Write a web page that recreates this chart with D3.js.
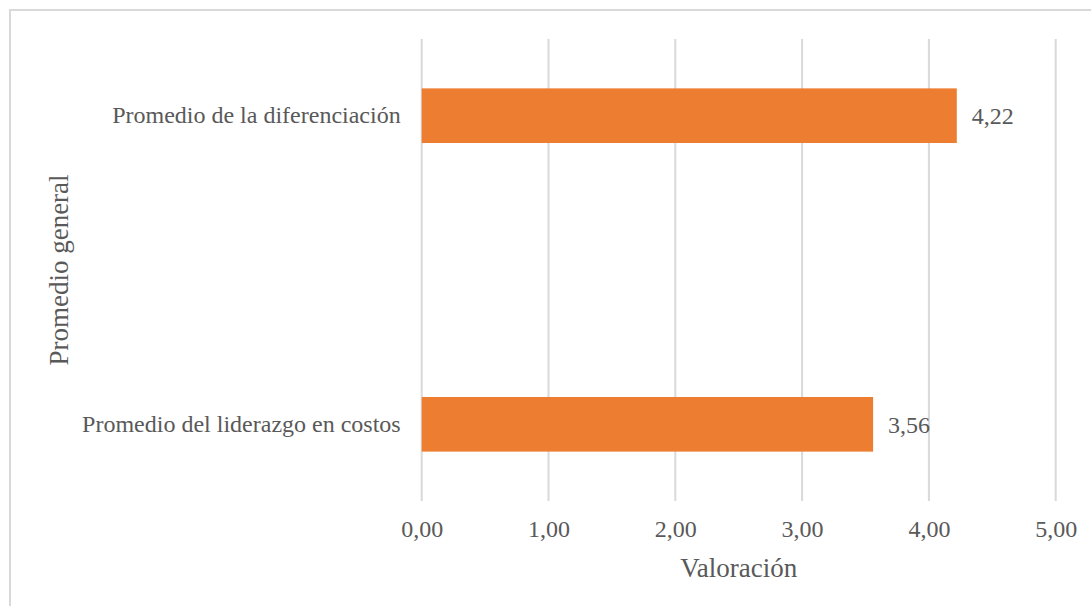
<!DOCTYPE html>
<html>
<head>
<meta charset="utf-8">
<script src="https://cdn.jsdelivr.net/npm/d3@7"></script>
<style>
  body { margin: 0; background: #fff; }
  svg text { font-family: "Liberation Serif", "Times New Roman", "DejaVu Serif", serif !important; fill: #595959; }
</style>
</head>
<body>
<div id="chart"></div>
<script>
// datos del gráfico
var categorias = ["Promedio de la diferenciación", "Promedio del liderazgo en costos"];
var valores = [4.22, 3.56];
var ticks = [0, 1, 2, 3, 4, 5];

var width = 1091, height = 606;
var plot = { left: 421.7, right: 1055.7, top: 39, bottom: 501 };
var fuente = "24px", fuenteTitulo = "27px";

var svg = d3.select("#chart").append("svg")
    .attr("width", width)
    .attr("height", height);

// borde del área del gráfico
svg.append("rect")
    .attr("x", 10).attr("y", 10)
    .attr("width", width + 20).attr("height", height + 20)
    .attr("fill", "none")
    .attr("stroke", "#d9d9d9")
    .attr("stroke-width", 2);

var x = d3.scaleLinear()
    .domain([0, 5])
    .range([plot.left, plot.right]);

var y = d3.scaleBand()
    .domain(categorias)
    .range([plot.top, plot.bottom])
    .paddingInner(0.823)
    .paddingOuter(0.16);

// líneas de cuadrícula
svg.append("g").selectAll("line")
    .data(ticks)
    .enter().append("line")
    .attr("x1", function (d) { return x(d); })
    .attr("x2", function (d) { return x(d); })
    .attr("y1", plot.top)
    .attr("y2", plot.bottom)
    .attr("stroke", "#d9d9d9")
    .attr("stroke-width", 2);

var fmt = function (d) { return d3.format(".2f")(d).replace(".", ","); };

// eje x
var xAxis = svg.append("g")
    .attr("transform", "translate(0," + plot.bottom + ")")
    .call(d3.axisBottom(x).tickValues(ticks).tickSize(0).tickPadding(19).tickFormat(fmt));
xAxis.select(".domain").remove();
xAxis.attr("font-family", null).attr("font-size", null);
xAxis.selectAll("text")
    .style("font-size", fuente)
    .attr("fill", "#595959");

// eje y
var yAxis = svg.append("g")
    .attr("transform", "translate(" + plot.left + ",0)")
    .call(d3.axisLeft(y).tickSize(0).tickPadding(21));
yAxis.select(".domain").remove();
yAxis.attr("font-family", null).attr("font-size", null);
yAxis.selectAll("text")
    .style("font-size", fuente)
    .attr("fill", "#595959");

// barras
svg.append("g").selectAll("rect")
    .data(valores)
    .enter().append("rect")
    .attr("x", x(0))
    .attr("y", function (d, i) { return y(categorias[i]); })
    .attr("width", function (d) { return x(d) - x(0); })
    .attr("height", y.bandwidth())
    .attr("fill", "#ed7d31");

// etiquetas de datos
svg.append("g").selectAll("text")
    .data(valores)
    .enter().append("text")
    .attr("x", function (d) { return x(d) + 15; })
    .attr("y", function (d, i) { return y(categorias[i]) + y.bandwidth() / 2; })
    .attr("dy", "0.35em")
    .style("font-size", fuente)
    .text(fmt);

// títulos de ejes
svg.append("text")
    .attr("x", (plot.left + plot.right) / 2)
    .attr("y", 577)
    .attr("text-anchor", "middle")
    .style("font-size", fuenteTitulo)
    .text("Valoración");

svg.append("text")
    .attr("transform", "translate(68," + (plot.top + plot.bottom) / 2 + ") rotate(-90)")
    .attr("text-anchor", "middle")
    .style("font-size", fuenteTitulo)
    .text("Promedio general");
</script>
</body>
</html>
